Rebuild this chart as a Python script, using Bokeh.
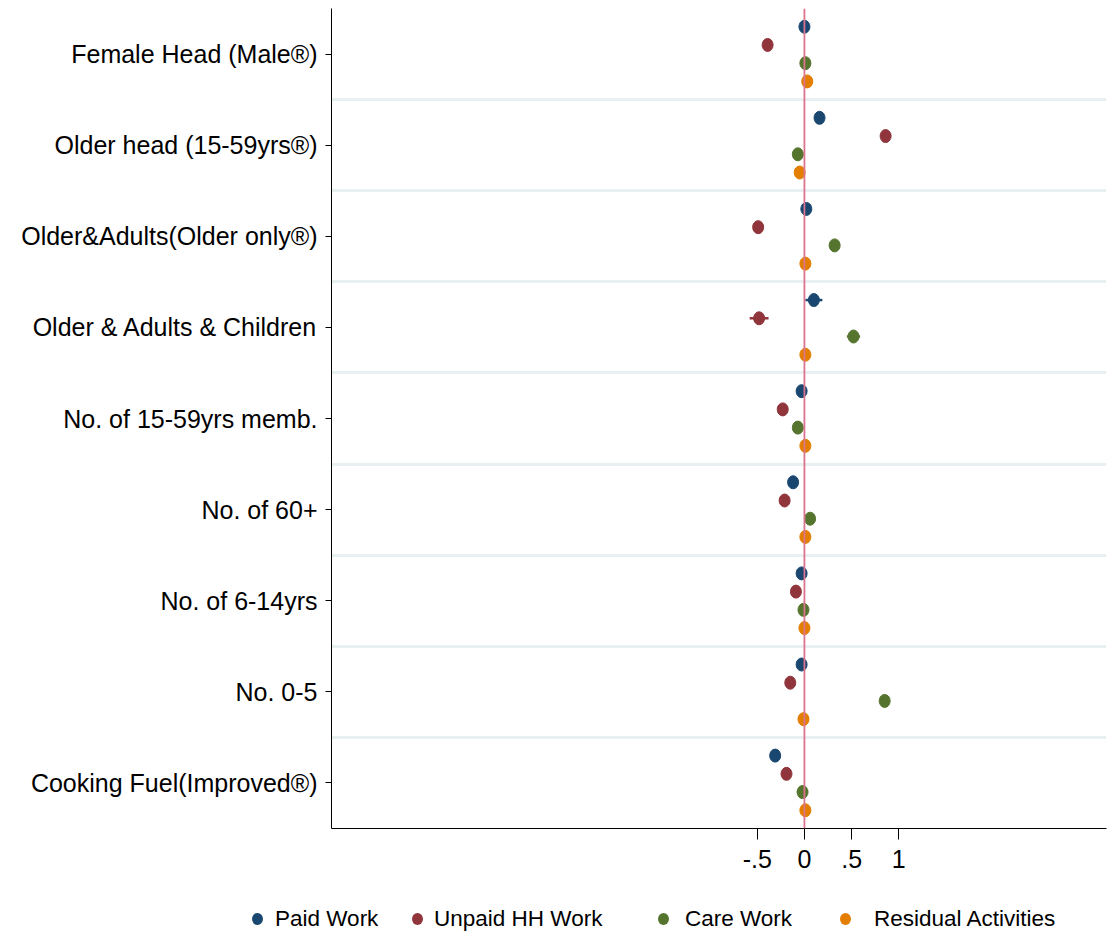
from bokeh.plotting import figure
from bokeh.models import Range1d, FixedTicker, Span, ColumnDataSource, Div
from bokeh.layouts import column
from bokeh.embed import file_html
from bokeh.resources import INLINE

categories = ["Female Head (Male®)", "Older head (15-59yrs®)", "Older&Adults(Older only®)",
              "Older & Adults & Children", "No. of 15-59yrs memb.", "No. of 60+",
              "No. of 6-14yrs", "No. 0-5", "Cooking Fuel(Improved®)"]
series = ["Paid Work", "Unpaid HH Work", "Care Work", "Residual Activities"]
colors = ["#1a476f", "#90353b", "#55752f", "#e37e00"]

paid = [0.00, 0.16, 0.02, 0.10, -0.03, -0.12, -0.03, -0.03, -0.31]
unpaid = [-0.39, 0.86, -0.49, -0.48, -0.23, -0.21, -0.09, -0.15, -0.19]
care = [0.01, -0.07, 0.32, 0.52, -0.07, 0.06, -0.01, 0.85, -0.02]
resid = [0.03, -0.05, 0.01, 0.01, 0.01, 0.01, 0.00, -0.01, 0.01]

paid_ci = [0.03, 0.03, 0.03, 0.09, 0.02, 0.03, 0.02, 0.02, 0.03]
unpaid_ci = [0.04, 0.04, 0.04, 0.10, 0.03, 0.03, 0.03, 0.03, 0.03]
care_ci = [0.02, 0.02, 0.03, 0.07, 0.02, 0.02, 0.02, 0.03, 0.02]
resid_ci = [0.02, 0.02, 0.02, 0.02, 0.01, 0.01, 0.01, 0.01, 0.01]

x_ticks = [-0.5, 0, 0.5, 1]
x_tick_labels = ["-.5", "0", ".5", "1"]

FONT = "Liberation Sans"
n = len(categories)

p = figure(frame_width=775, frame_height=820, output_backend="svg", toolbar_location=None,
           x_range=Range1d(-5.01, 3.2), y_range=Range1d(0, n),
           min_border_left=331, min_border_right=13, min_border_top=8, min_border_bottom=56)
p.outline_line_color = None
p.background_fill_color = "white"
p.border_fill_color = "white"

# grid between groups
p.xgrid.visible = False
p.ygrid.ticker = FixedTicker(ticks=list(range(1, n)))
p.ygrid.grid_line_color = "#e9f0f2"
p.ygrid.grid_line_width = 3

# axes
centers = [n - i - 0.5 for i in range(n)]
p.yaxis.ticker = FixedTicker(ticks=centers)
p.yaxis.major_label_overrides = {c: categories[i] for i, c in enumerate(centers)}
p.yaxis.major_label_text_font = FONT
p.yaxis.major_label_text_font_size = "25px"
p.yaxis.major_label_text_color = "black"
p.yaxis.major_tick_out = 6
p.yaxis.major_tick_in = 0
p.yaxis.minor_tick_line_color = None
p.yaxis.major_label_standoff = 8
p.yaxis.axis_line_color = "black"

p.xaxis.ticker = FixedTicker(ticks=x_ticks)
p.xaxis.major_label_overrides = {t: l for t, l in zip(x_ticks, x_tick_labels)}
p.xaxis.major_label_text_font = FONT
p.xaxis.major_label_text_font_size = "25px"
p.xaxis.major_label_text_color = "black"
p.xaxis.major_tick_out = 11
p.xaxis.major_tick_in = 0
p.xaxis.minor_tick_line_color = None
p.xaxis.major_label_standoff = 10
p.xaxis.axis_line_color = "black"

p.add_layout(Span(location=0, dimension="height", line_color="#dc7490", line_width=1.8))

vals = [paid, unpaid, care, resid]
cis = [paid_ci, unpaid_ci, care_ci, resid_ci]
for k, (name, col, v, ci) in enumerate(zip(series, colors, vals, cis)):
    ys = [n - i - 0.2 * (k + 1) for i in range(n)]
    src = ColumnDataSource(dict(x=v, y=ys, lo=[a - b for a, b in zip(v, ci)],
                                hi=[a + b for a, b in zip(v, ci)]))
    p.segment(x0="lo", x1="hi", y0="y", y1="y", source=src, line_color=col, line_width=2.5)
    p.ellipse(x="x", y="y", width=11, height=13, width_units="screen",
              height_units="screen", source=src, fill_color=col, line_color=col)

# legend strip (below the plot), one entry per series
dot_left = [252, 412, 658, 840]
text_left = [275, 434, 685, 874]
parts = []
for name, col, dl, tl in zip(series, colors, dot_left, text_left):
    parts.append(
        f'<span style="position:absolute;left:{dl}px;top:29px;width:11px;height:12px;'
        f'border-radius:50%;background:{col};"></span>'
        f'<span style="position:absolute;left:{tl}px;top:21px;line-height:28px;'
        f'white-space:nowrap;">{name}</span>')
html = ('<div style="position:relative;width:1119px;height:52px;margin:0;padding:0;'
        f'font-family:\'{FONT}\';font-size:22.5px;color:black;">' + "".join(parts) + '</div>')
legend_div = Div(text=html, width=1119, height=52, margin=0)

layout = column(p, legend_div, spacing=0)
open("out.html", "w").write(file_html(layout, INLINE))
